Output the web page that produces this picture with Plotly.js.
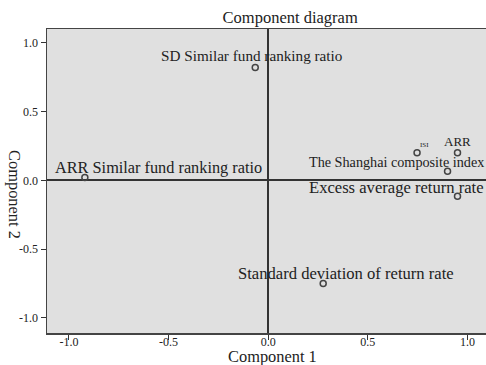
<!DOCTYPE html>
<html><head><meta charset="utf-8">
<script src="https://cdn.plot.ly/plotly-3.0.1.min.js"></script>
<style>html,body{margin:0;padding:0;overflow:hidden;background:#fff}</style>
</head><body><div id="chart" style="width:486px;height:365px"></div>
<script>
// Data
const variables = ["SD Similar fund ranking ratio", "ARR Similar fund ranking ratio", "ISI", "ARR",
  "The Shanghai composite index", "Excess average return rate", "Standard deviation of return rate"];
const component1 = [-0.065, -0.92, 0.747, 0.95, 0.90, 0.95, 0.276];
const component2 = [0.82, 0.02, 0.20, 0.20, 0.065, -0.116, -0.75];
const tickValues = [-1.0, -0.5, 0.0, 0.5, 1.0];
const tickLabels = ["-1.0", "-0.5", "0.0", "0.5", "1.0"];

// Label styling (pixel offsets, anchors, font sizes)
const labelStyle = [
  {xanchor: "center", xshift: -3, yshift: 12, size: 15.2},
  {xanchor: "left", xshift: -32, yshift: 10, size: 16.3},
  {xanchor: "center", xshift: 7, yshift: 8, size: 7},
  {xanchor: "center", xshift: 0, yshift: 11, size: 13},
  {xanchor: "left", xshift: -141, yshift: 9, size: 14.2},
  {xanchor: "left", xshift: -151, yshift: 9, size: 16.6},
  {xanchor: "left", xshift: -87, yshift: 10, size: 16.6}
];

const font = "Liberation Serif, serif";

const annotations = variables.map((v, i) => ({
  x: component1[i], y: component2[i], xref: "x", yref: "y",
  text: v, showarrow: false,
  xanchor: labelStyle[i].xanchor, yanchor: "middle",
  xshift: labelStyle[i].xshift, yshift: labelStyle[i].yshift,
  font: {family: font, size: labelStyle[i].size, color: "#222"}
}));

// Axis titles
annotations.push({
  text: "Component 1", xref: "paper", yref: "paper", x: 0.514, y: 0, xanchor: "center", yanchor: "middle",
  yshift: -23, showarrow: false, font: {family: font, size: 16.4, color: "#222"}
});
annotations.push({
  text: "Component 2", xref: "paper", yref: "paper", x: 0, y: 0.457, xanchor: "center", yanchor: "middle",
  xshift: -32, textangle: 90, showarrow: false, font: {family: font, size: 16.4, color: "#222"}
});

const trace = {
  x: component1, y: component2, mode: "markers", type: "scatter",
  marker: {symbol: "circle-open", size: 6, color: "#444", line: {width: 1.5, color: "#444"}},
  hoverinfo: "skip"
};
// invisible trace to drive the label-only overlay x axis
const labelTrace = {
  x: component1, y: component2, xaxis: "x2", yaxis: "y", mode: "markers", type: "scatter",
  marker: {size: 1, opacity: 0}, hoverinfo: "skip"
};

const tickFont = {family: font, size: 12, color: "#222"};

const layout = {
  width: 486, height: 365,
  margin: {l: 47, r: 0, t: 29, b: 32},
  paper_bgcolor: "#ffffff", plot_bgcolor: "#e0e0e0",
  showlegend: false,
  title: {text: "Component diagram", x: 0.597, xanchor: "center", y: 0.953, yanchor: "middle",
    font: {family: font, size: 16.5, color: "#222"}},
  xaxis: {
    range: [-1.11, 1.093], tickvals: tickValues, showticklabels: false,
    ticks: "outside", ticklen: 5, tickcolor: "#333", tickwidth: 1,
    showgrid: false, zeroline: true, zerolinecolor: "#333", zerolinewidth: 2,
    showline: true, mirror: true, linecolor: "#444", linewidth: 1.5
  },
  yaxis: {
    range: [-1.11, 1.10], tickvals: tickValues, ticktext: tickLabels,
    ticks: "outside", ticklen: 5, tickcolor: "#333", tickwidth: 1,
    showgrid: false, zeroline: true, zerolinecolor: "#333", zerolinewidth: 2,
    showline: true, mirror: false, linecolor: "#444", linewidth: 1.5,
    tickfont: tickFont
  },
  xaxis2: {
    overlaying: "x", anchor: "y", range: [-1.11, 1.093], tickvals: tickValues, ticktext: tickLabels,
    ticks: "", showgrid: false, zeroline: false, showline: false, tickfont: tickFont
  },
  annotations: annotations
};

Plotly.newPlot("chart", [trace, labelTrace], layout, {displayModeBar: false, staticPlot: true});
</script></body></html>
